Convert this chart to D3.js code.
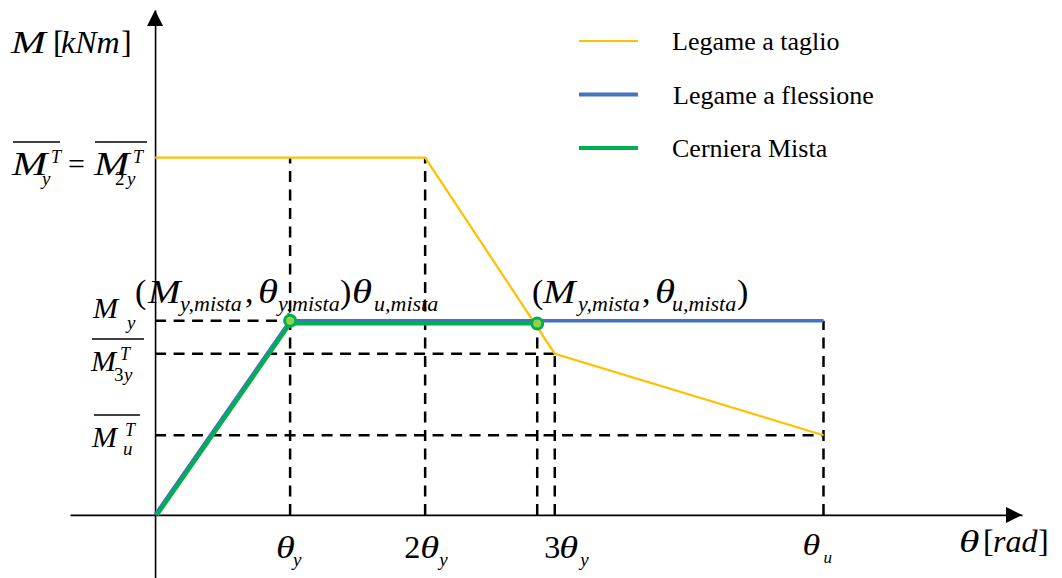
<!DOCTYPE html>
<html>
<head>
<meta charset="utf-8">
<script src="https://cdn.jsdelivr.net/npm/d3@7"></script>
<style>
    body { margin: 0; background: #fff; }
    text { font-family: "Liberation Serif", "Times New Roman", serif; fill: #000; }
</style>
</head>
<body>
<script>
// Data (theta in units of theta_y, M in units of M_y)
// =================================
var thetaTaglio = [0, 2, 2.96, 4.95];
var mTaglio = [1.84, 1.84, 0.83, 0.41];

var thetaFlessione = [0, 1, 4.95];
var mFlessione = [0, 1, 1];

var thetaMista = [0.015, 1, 2.83];
var mMista = [0, 0.985, 0.985];

// yield / ultimate points of the mixed hinge
var thetaPunti = [1, 2.83];
var mPunti = [1, 0.985];

// dashed reference lines
var hGuideM = [1, 0.83, 0.41];
var hGuideTheta = [1, 2.96, 4.95];
var vGuideTheta = [1, 2, 2.83, 2.96, 4.95];
var vGuideM = [1.84, 1.84, 0.985, 0.83, 1];

var legendLabels = ["Legame a taglio", "Legame a flessione", "Cerniera Mista"];
var legendColors = ["#FFC000", "#4472C4", "#00B050"];
var legendWidths = [2.2, 4, 4];

// Set up chart
// =================================
var svgWidth = 1062;
var svgHeight = 578;

var svg = d3.select("body")
    .append("svg")
    .attr("width", svgWidth)
    .attr("height", svgHeight);

var x = d3.scaleLinear().domain([-0.63, 6.42]).range([70, 1022]);
var y = d3.scaleLinear().domain([-0.325, 2.6]).range([578, 10]);

var line = d3.line()
    .x(d => x(d[0]))
    .y(d => y(d[1]));

// Axes (no ticks, only the lines + arrow heads)
// =================================
var xAxis = svg.append("g")
    .attr("transform", `translate(0, ${y(0)})`)
    .call(d3.axisBottom(x).tickValues([]).tickSizeOuter(0));
xAxis.select(".domain").attr("stroke", "#000").attr("stroke-width", 1.6);

var yAxis = svg.append("g")
    .attr("transform", `translate(${x(0)}, 0)`)
    .call(d3.axisLeft(y).tickValues([]).tickSizeOuter(0));
yAxis.select(".domain").attr("stroke", "#000").attr("stroke-width", 1.6);

svg.append("path")
    .attr("transform", `translate(${x(0)}, ${y(2.6)})`)
    .attr("d", "M0,0L-8,16L8,16Z")
    .attr("fill", "#000");

svg.append("path")
    .attr("transform", `translate(${x(6.42)}, ${y(0)})`)
    .attr("d", "M0,0L-16,-8L-16,8Z")
    .attr("fill", "#000");

// Dashed guides
// =================================
var guides = svg.append("g")
    .attr("stroke", "#000")
    .attr("stroke-width", 2.5)
    .attr("stroke-dasharray", "11,7.5");

guides.selectAll(".hguide")
    .data(d3.zip(hGuideM, hGuideTheta))
    .enter()
    .append("line")
    .attr("class", "hguide")
    .attr("x1", x(0))
    .attr("x2", d => x(d[1]))
    .attr("y1", d => y(d[0]))
    .attr("y2", d => y(d[0]));

guides.selectAll(".vguide")
    .data(d3.zip(vGuideTheta, vGuideM))
    .enter()
    .append("line")
    .attr("class", "vguide")
    .attr("x1", d => x(d[0]))
    .attr("x2", d => x(d[0]))
    .attr("y1", y(0))
    .attr("y2", d => y(d[1]));

// Curves
// =================================
svg.append("path")
    .datum(d3.zip(thetaTaglio, mTaglio))
    .attr("d", line)
    .attr("fill", "none")
    .attr("stroke", legendColors[0])
    .attr("stroke-width", legendWidths[0]);

svg.append("path")
    .datum(d3.zip(thetaFlessione, mFlessione))
    .attr("d", line)
    .attr("fill", "none")
    .attr("stroke", legendColors[1])
    .attr("stroke-width", 3.5);

svg.append("path")
    .datum(d3.zip(thetaMista, mMista))
    .attr("d", line)
    .attr("fill", "none")
    .attr("stroke", legendColors[2])
    .attr("stroke-width", 4);

svg.selectAll(".punto")
    .data(d3.zip(thetaPunti, mPunti))
    .enter()
    .append("circle")
    .attr("class", "punto")
    .attr("cx", d => x(d[0]))
    .attr("cy", d => y(d[1]))
    .attr("r", 5.5)
    .attr("fill", "#92D050")
    .attr("stroke", "#00B050")
    .attr("stroke-width", 3);

// Legend
// =================================
var legend = svg.selectAll(".legend")
    .data(legendLabels)
    .enter()
    .append("g")
    .attr("class", "legend")
    .attr("transform", (d, i) => `translate(579, ${41 + i * 53.5})`);

legend.append("line")
    .attr("x1", 0)
    .attr("x2", 59)
    .attr("stroke", (d, i) => legendColors[i])
    .attr("stroke-width", (d, i) => legendWidths[i]);

legend.append("text")
    .attr("x", (d, i) => i == 1 ? 94 : 93)
    .attr("y", 9)
    .attr("font-size", 26)
    .text(d => d);

// Math labels: [dx, dy, size, text, roman?, x-stretch]
// =================================
function mathLabel(x0, y0, parts) {
    var g = svg.append("g");
    parts.forEach(function (p) {
        var t = g.append("text")
            .attr("font-size", p[2])
            .attr("font-style", p[4] ? "normal" : "italic")
            .text(p[3]);
        if (p[5]) {
            t.attr("transform", `translate(${x0 + p[0]}, ${y0 + p[1]}) scale(${p[5]}, 1)`);
        } else {
            t.attr("x", x0 + p[0]).attr("y", y0 + p[1]);
        }
    });
    return g;
}

function overline(x1, x2, yy) {
    svg.append("line")
        .attr("x1", x1).attr("x2", x2)
        .attr("y1", yy).attr("y2", yy)
        .attr("stroke", "#000")
        .attr("stroke-width", 1.5);
}

// y axis title
mathLabel(11, 53, [[0, 0, 31, "M", 0, 1.35], [42, 0, 32, "[", 1], [50, 0, 32, "kNm"], [110, 0, 32, "]", 1]]);

// M_y^T = M_2y^T
mathLabel(12, 175, [
    [0, 0, 34, "M", 0, 1.25], [39, -12, 18, "T"], [30, 10, 19, "y"],
    [56, -1, 30, "=", 1],
    [82, 0, 34, "M", 0, 1.25], [121, -12, 18, "T"], [103, 10, 19, "2", 1], [115, 10, 19, "y"]
]);
overline(13, 60, 142);
overline(95, 147, 142);

// M_y
mathLabel(93, 318, [[0, 0, 30, "M"], [34, 11, 19, "y"]]);
overline(92, 144, 339);

// M_3y^T
mathLabel(91, 371, [[0, 0, 30, "M"], [29, -11, 18, "T"], [23, 10, 19, "3", 1], [33, 10, 19, "y"]]);
overline(94, 140, 415);

// M_u^T
mathLabel(92, 447, [[0, 0, 30, "M"], [33, -11, 18, "T"], [31, 8, 19, "u"]]);

// (M_y,mista , theta_y,mista) theta_u,mista
mathLabel(135, 303, [
    [0, 0, 34, "(", 1], [13, 0, 34, "M", 0, 1.15], [45, 8, 22, "y,mista"],
    [110, 0, 34, ",", 1], [123, 0, 34, "θ", 0, 1.2], [143, 8, 22, "y,mista"],
    [205, 0, 34, ")", 1], [217, 0, 34, "θ", 0, 1.2], [239, 8, 22, "u,mista"]
]);

// (M_y,mista , theta_u,mista)
mathLabel(532, 303, [
    [0, 0, 34, "(", 1], [11, 0, 34, "M", 0, 1.15], [46, 8, 22, "y,mista"],
    [110, 0, 34, ",", 1], [123, 0, 34, "θ", 0, 1.2], [140, 8, 22, "u,mista"],
    [205, 0, 34, ")", 1]
]);

// theta tick labels
mathLabel(x(1), 558, [[-14, 0, 32, "θ", 0, 1.2], [3, 8, 19, "y"]]);
mathLabel(x(2), 558, [[-21, 0, 32, "2", 1], [-5, 0, 32, "θ", 0, 1.2], [14, 8, 19, "y"]]);
mathLabel(x(3), 558, [[-16, 0, 32, "3", 1], [-1, 0, 32, "θ", 0, 1.2], [20, 8, 19, "y"]]);
mathLabel(x(4.95), 555, [[-21, 0, 30, "θ", 0, 1.2], [0, 8, 17, "u"]]);

// x axis title
mathLabel(959, 552, [[0, 0, 32, "θ", 0, 1.3], [24, 0, 32, "[", 1], [34, 0, 32, "rad"], [79, 0, 32, "]", 1]]);
</script>
</body>
</html>
